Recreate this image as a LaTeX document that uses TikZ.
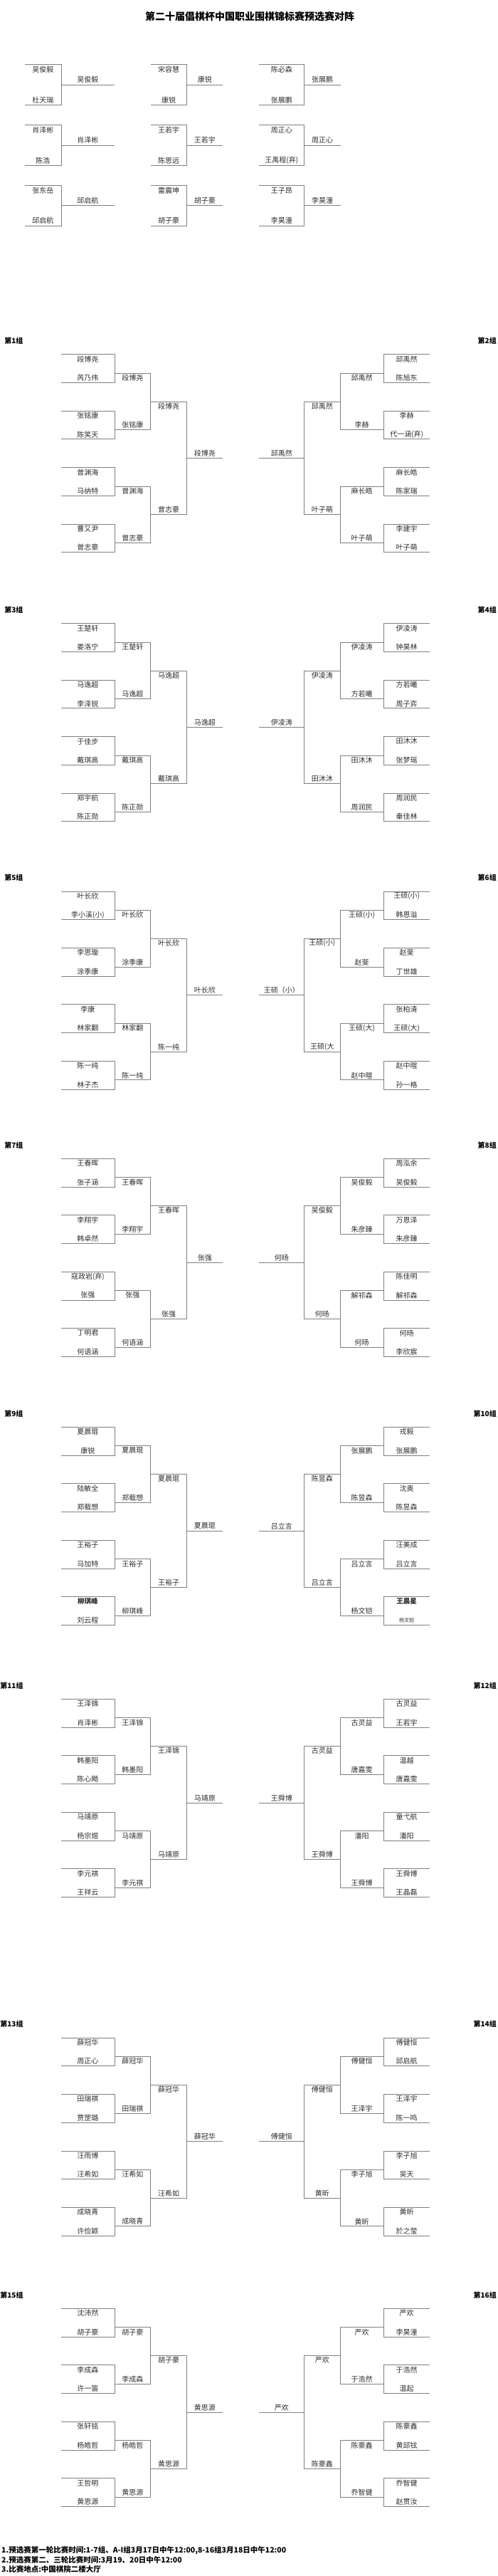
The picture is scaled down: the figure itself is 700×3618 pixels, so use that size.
\documentclass[tikz,border=0pt]{standalone}
\usepackage{fontspec}
\setmainfont{Noto Sans CJK SC}

\def\rowh{13.24}
\def\toph{14.17}
% columns of the left and right half brackets
\def\xLa{85.9}\def\xLb{161}\def\xLc{211.6}\def\xLd{262.6}\def\xLe{313.1}\def\xLlab{32.7}
\def\xRa{604.3}\def\xRb{539}\def\xRc{478.1}\def\xRd{427.6}\def\xRe{364.1}\def\xRlab{698}
\definecolor{linegray}{RGB}{128,128,128}
\definecolor{namegray}{RGB}{45,45,45}
\newcommand{\heavy}[1]{{\fontsize{9.5}{10}\selectfont\bfseries #1}}
\newcommand{\lite}[1]{{\fontsize{7}{8}\selectfont #1}}

\tikzset{
  bline/.style={draw=linegray,line width=0.8pt},
  pname/.style={font=\fontsize{10}{12}\selectfont,text=namegray,inner sep=0pt},
  grouptag/.style={font=\fontsize{10}{12}\selectfont\bfseries,anchor=east,inner sep=0pt},
  note/.style={font=\fontsize{10.5}{12}\selectfont\bfseries,anchor=west,inner sep=0pt}
}

% #1 side (L/R), #2 top y, #3 id, #4 round 1 pairs, #5 round 2 pairs, #6 round 3 pair, #7 winner, #8 tag
\newcommand{\halfgroup}[8]{%
  \edef\gxa{\csname x#1a\endcsname}\edef\gxb{\csname x#1b\endcsname}%
  \edef\gxc{\csname x#1c\endcsname}\edef\gxd{\csname x#1d\endcsname}%
  \edef\gxe{\csname x#1e\endcsname}\edef\gxl{\csname x#1lab\endcsname}%
  \node[grouptag] (#3-tag) at (\gxl,#2-19) {#8};
  \foreach \pa/\pb [count=\k from 0] in {#4} {
    \pgfmathsetmacro{\yt}{#2+6*\k*\rowh}
    \pgfmathsetmacro{\yb}{\yt+3*\rowh}
    \draw[bline] (\gxa,\yt) -- (\gxb,\yt) -- (\gxb,\yb) -- (\gxa,\yb);
    \node[pname] (#3-r1-\k-a) at ({(\gxa+\gxb)/2},\yt+0.5*\rowh) {\pa};
    \node[pname] (#3-r1-\k-b) at ({(\gxa+\gxb)/2},\yt+2.5*\rowh) {\pb};
  }
  \foreach \pa/\pb [count=\k from 0] in {#5} {
    \pgfmathsetmacro{\yt}{#2+(12*\k+2)*\rowh}
    \pgfmathsetmacro{\yb}{\yt+6*\rowh}
    \draw[bline] (\gxb,\yt) -- (\gxc,\yt) -- (\gxc,\yb) -- (\gxb,\yb);
    \node[pname] (#3-r2-\k-a) at ({(\gxb+\gxc)/2},\yt+0.5*\rowh) {\pa};
    \node[pname] (#3-r2-\k-b) at ({(\gxb+\gxc)/2},\yb-0.5*\rowh) {\pb};
  }
  \foreach \pa/\pb in {#6} {
    \pgfmathsetmacro{\yt}{#2+5*\rowh}
    \pgfmathsetmacro{\yb}{#2+17*\rowh}
    \draw[bline] (\gxc,\yt) -- (\gxd,\yt) -- (\gxd,\yb) -- (\gxc,\yb);
    \node[pname] (#3-r3-a) at ({(\gxc+\gxd)/2},\yt+0.5*\rowh) {\pa};
    \node[pname] (#3-r3-b) at ({(\gxc+\gxd)/2},\yb-0.5*\rowh) {\pb};
  }
  \pgfmathsetmacro{\yf}{#2+11*\rowh}
  \draw[bline] (\gxd,\yf) -- (\gxe,\yf);
  \node[pname] (#3-win) at ({(\gxd+\gxe)/2},\yf-0.5*\rowh) {#7};
}

\begin{document}
\begin{tikzpicture}[x=1pt,y=-1pt]
  \fill[white] (0,0) rectangle (700,3618);
  \useasboundingbox (0,0) rectangle (700,3618);
  \node[font=\fontsize{14}{16}\selectfont\bfseries,inner sep=0pt] (title) at (351,23.3)
    {第二十届倡棋杯中国职业围棋锦标赛预选赛对阵};

  % extra qualifying boxes
  \foreach \xa/\xb/\xc/\ty/\pa/\pb/\w [count=\n] in {
    34.9/85.9/161/90.7/吴俊毅/杜天瑞/吴俊毅,
    211.6/262.6/313.1/90.7/宋容慧/康锐/康锐,
    364.1/427.6/478.6/90.7/陈必森/张展鹏/张展鹏,
    34.9/85.9/161/175.7/肖泽彬/陈浩/肖泽彬,
    211.6/262.6/313.1/175.7/王若宇/陈思远/王若宇,
    364.1/427.6/478.6/175.7/周正心/王禹程(弃)/周正心,
    34.9/85.9/161/260.5/张东岳/邱启航/邱启航,
    211.6/262.6/313.1/260.5/雷震坤/胡子豪/胡子豪,
    364.1/427.6/478.6/260.5/王子昂/李昊潼/李昊潼} {
    \draw[bline] (\xa,\ty) -- (\xb,\ty) -- (\xb,\ty+4*\toph) -- (\xa,\ty+4*\toph);
    \draw[bline] (\xb,\ty+2*\toph) -- (\xc,\ty+2*\toph);
    \node[pname] (seed\n-a) at ({(\xa+\xb)/2},\ty+0.5*\toph) {\pa};
    \node[pname] (seed\n-b) at ({(\xa+\xb)/2},\ty+3.5*\toph) {\pb};
    \node[pname] (seed\n-w) at ({(\xb+\xc)/2},\ty+1.5*\toph) {\w};
  }

  \halfgroup{L}{497.7}{g1}{段博尧/芮乃伟, 张铭康/陈笑天, 曾渊海/马纳特, 曹又尹/曾志豪}
    {段博尧/张铭康, 曾渊海/曾志豪}{段博尧/曾志豪}{段博尧}{第1组}
  \halfgroup{R}{497.7}{g2}{邱禹然/陈旭东, 李赫/代一涵(弃), 麻长皓/陈家瑞, 李建宇/叶子萌}
    {邱禹然/李赫, 麻长皓/叶子萌}{邱禹然/叶子萌}{邱禹然}{第2组}
  \halfgroup{L}{875.7}{g3}{王楚轩/娄洛宁, 马逸超/李泽锐, 于佳步/戴琪高, 郑宇航/陈正勋}
    {王楚轩/马逸超, 戴琪高/陈正勋}{马逸超/戴琪高}{马逸超}{第3组}
  \halfgroup{R}{875.7}{g4}{伊凌涛/钟昊林, 方若曦/周子弈, 田沐沐/张梦瑶, 周润民/秦佳林}
    {伊凌涛/方若曦, 田沐沐/周润民}{伊凌涛/田沐沐}{伊凌涛}{第4组}
  \halfgroup{L}{1252}{g5}{叶长欣/李小溪(小), 李思璇/涂季康, 李康/林家翻, 陈一纯/林子杰}
    {叶长欣/涂季康, 林家翻/陈一纯}{叶长欣/陈一纯}{叶长欣}{第5组}
  \halfgroup{R}{1252}{g6}{王硕(小)/韩恩溢, 赵斐/丁世雄, 张柏清/王硕(大), 赵中暄/孙一格}
    {王硕(小)/赵斐, 王硕(大)/赵中暄}{王硕(小)/王硕(大}{王硕（小）}{第6组}
  \halfgroup{L}{1627.3}{g7}{王春晖/张子涵, 李翔宇/韩卓然, 寇政岩(弃)/张强, 丁明君/何语涵}
    {王春晖/李翔宇, 张强/何语涵}{王春晖/张强}{张强}{第7组}
  \halfgroup{R}{1627.3}{g8}{周泓余/吴俊毅, 万恩泽/朱彦臻, 陈佳明/解祁森, 何旸/李欣宸}
    {吴俊毅/朱彦臻, 解祁森/何旸}{吴俊毅/何旸}{何旸}{第8组}
  \halfgroup{L}{2004.3}{g9}{夏晨琨/康锐, 陆敏全/郑载想, 王裕子/马加特, \heavy{柳琪峰}/刘云程}
    {夏晨琨/郑载想, 王裕子/柳琪峰}{夏晨琨/王裕子}{夏晨琨}{第9组}
  \halfgroup{R}{2004.3}{g10}{戎毅/张展鹏, 沈奥/陈昱森, 汪美成/吕立言, \heavy{王晨星}/\lite{杨文铠}}
    {张展鹏/陈昱森, 吕立言/杨文铠}{陈昱森/吕立言}{吕立言}{第10组}
  \halfgroup{L}{2386.3}{g11}{王泽锦/肖泽彬, 韩墨阳/陈心飏, 马靖原/杨宗煜, 李元祺/王祥云}
    {王泽锦/韩墨阳, 马靖原/李元祺}{王泽锦/马靖原}{马靖原}{第11组}
  \halfgroup{R}{2386.3}{g12}{古灵益/王若宇, 温越/唐嘉雯, 童弋航/潘阳, 王舜博/王晶磊}
    {古灵益/唐嘉雯, 潘阳/王舜博}{古灵益/王舜博}{王舜博}{第12组}
  \halfgroup{L}{2862}{g13}{薛冠华/周正心, 田瑞祺/贾罡璐, 汪雨博/汪希如, 成晓青/许俭颖}
    {薛冠华/田瑞祺, 汪希如/成晓青}{薛冠华/汪希如}{薛冠华}{第13组}
  \halfgroup{R}{2862}{g14}{傅健恒/邱启航, 王泽宇/陈一鸣, 李子旭/吴天, 黄昕/於之莹}
    {傅健恒/王泽宇, 李子旭/黄昕}{傅健恒/黄昕}{傅健恒}{第14组}
  \halfgroup{L}{3242.3}{g15}{沈沛然/胡子豪, 李成森/许一笛, 张轩铭/杨皓哲, 王哲明/黄思源}
    {胡子豪/李成森, 杨皓哲/黄思源}{胡子豪/黄思源}{黄思源}{第15组}
  \halfgroup{R}{3242.3}{g16}{严欢/李昊潼, 于浩然/温起, 陈豪鑫/黄邱铉, 乔智健/赵贯汝}
    {严欢/于浩然, 陈豪鑫/乔智健}{严欢/陈豪鑫}{严欢}{第16组}

  \node[note] (note1) at (2,3582) {1.预选赛第一轮比赛时间:1-7组、A-I组3月17日中午12:00,8-16组3月18日中午12:00};
  \node[note] (note2) at (2,3595.3) {2.预选赛第二、三轮比赛时间:3月19、20日中午12:00};
  \node[note] (note3) at (2,3608.7) {3.比赛地点:中国棋院二楼大厅};
\end{tikzpicture}
\end{document}
